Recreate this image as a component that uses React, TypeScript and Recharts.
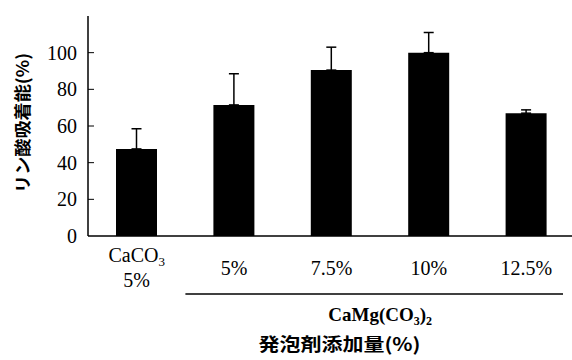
import React from 'react';
import { BarChart, Bar, XAxis, YAxis, ErrorBar } from 'recharts';

const categories = ['CaCO3 5%', '5%', '7.5%', '10%', '12.5%'];
const adsorption = [47.5, 71.5, 90.5, 100, 67];
const errorUp = [11, 17, 12.5, 11, 1.8];
const yTicks = [0, 20, 40, 60, 80, 100];
const boundaryTicks = [1, 2, 3, 4];

const data = categories.map((cat, i) => ({
  cat,
  value: adsorption[i],
  err: [0, errorUp[i]],
}));

const serif: React.CSSProperties = { fontFamily: "'Liberation Serif', 'Times New Roman', serif" };
const jp: React.CSSProperties = { fontFamily: "'Noto Sans CJK JP', 'Noto Sans', sans-serif", fontWeight: 700 };

const CatTick = (props: any) => {
  const { x, y, payload } = props;
  const label: string = payload.value;
  if (label.startsWith('CaCO3')) {
    return (
      <g>
        <text x={x} y={y + 26} textAnchor="middle" style={serif} fontSize={20} fill="#000">
          <tspan>CaCO</tspan>
          <tspan fontSize={13} dy={4}>3</tspan>
        </text>
        <text x={x} y={y + 51} textAnchor="middle" style={serif} fontSize={20} fill="#000">
          {label.replace('CaCO3', '').trim()}
        </text>
      </g>
    );
  }
  return (
    <text x={x} y={y + 39} textAnchor="middle" style={serif} fontSize={20} fill="#000">
      {label}
    </text>
  );
};

const ValueTick = (props: any) => {
  const { x, y, payload } = props;
  return (
    <g>
      <text x={x} y={y} dy={7} textAnchor="end" style={serif} fontSize={20} fill="#000">
        {payload.value}
      </text>
      {payload.value !== 0 && (
        <line x1={x + 11} x2={x + 17} y1={y} y2={y} stroke="#000" strokeWidth={1} />
      )}
    </g>
  );
};

const XAnnotation = (props: any) => {
  const vb = props.viewBox || {};
  const band = vb.width / categories.length;
  const left = vb.x + band;
  const right = vb.x + vb.width;
  return (
    <g>
      <line x1={left} x2={right - 12} y1={294} y2={294} stroke="#000" strokeWidth={1.5} />
      <text x={(left + right) / 2} y={321} textAnchor="middle" style={{ ...serif, fontWeight: 700 }} fontSize={19} fill="#000">
        <tspan>CaMg(CO</tspan>
        <tspan fontSize={12} dy={4}>3</tspan>
        <tspan dy={-4}>)</tspan>
        <tspan fontSize={12} dy={4}>2</tspan>
      </text>
      <text x={vb.x + vb.width / 2 + 8} y={351} textAnchor="middle" style={jp} fontSize={18} fill="#000" textLength={162} lengthAdjust="spacingAndGlyphs">
        発泡剤添加量(%)
      </text>
    </g>
  );
};

const YTitle = (props: any) => {
  const vb = props.viewBox || {};
  const cy = vb.y + vb.height / 2 - 3;
  return (
    <text x={21} y={cy} transform={`rotate(-90 21 ${cy})`} textAnchor="middle" dominantBaseline="central" style={jp} fontSize={17} fill="#000" textLength={140} lengthAdjust="spacingAndGlyphs">
      リン酸吸着能(%)
    </text>
  );
};

export default function App() {
  return (
    <div style={{ position: 'absolute', left: 0, top: 0, width: 572, height: 360, overflow: 'hidden', background: '#fff' }}>
      <BarChart width={575} height={360} data={data} margin={{ top: 16, right: 0, bottom: 0, left: 0 }}>
        <XAxis
          xAxisId="ticks"
          type="number"
          domain={[0, 5]}
          allowDataOverflow
          ticks={boundaryTicks}
          height={0}
          mirror
          tick={false}
          axisLine={false}
          tickSize={5}
          tickLine={{ stroke: '#000', strokeWidth: 1 }}
        />
        <XAxis
          xAxisId="cat"
          dataKey="cat"
          height={124}
          interval={0}
          tickSize={0}
          tickMargin={0}
          tickLine={false}
          axisLine={{ stroke: '#000', strokeWidth: 1.5 }}
          tick={<CatTick />}
          label={{ content: <XAnnotation /> }}
        />
        <XAxis
          xAxisId="top"
          orientation="top"
          type="number"
          domain={[0, 1]}
          height={0}
          tick={false}
          tickLine={false}
          axisLine={{ stroke: '#444', strokeWidth: 2 }}
        />
        <YAxis
          domain={[0, 120]}
          ticks={yTicks}
          width={88}
          interval={0}
          tickSize={0}
          tickMargin={11}
          tickLine={false}
          axisLine={{ stroke: '#000', strokeWidth: 1.5 }}
          tick={<ValueTick />}
          label={{ content: <YTitle /> }}
        />
        <Bar xAxisId="cat" dataKey="value" fill="#000" barSize={41} isAnimationActive={false}>
          <ErrorBar dataKey="err" width={5} stroke="#000" strokeWidth={1.5} direction="y" isAnimationActive={false} />
        </Bar>
      </BarChart>
    </div>
  );
}
